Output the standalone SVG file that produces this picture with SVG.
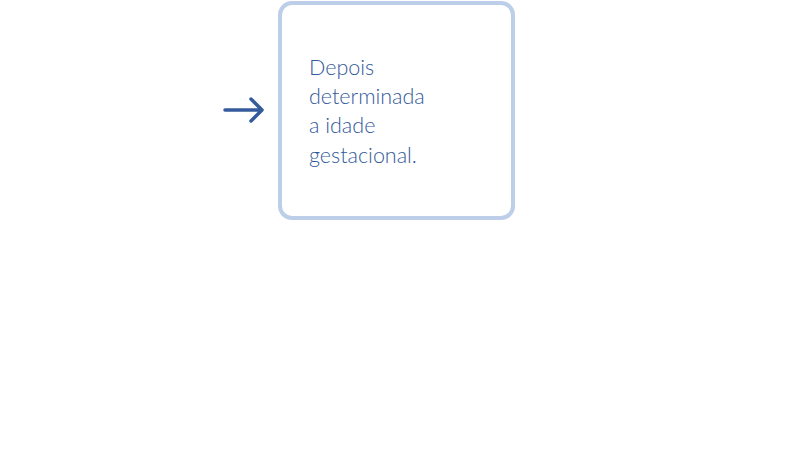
<svg xmlns="http://www.w3.org/2000/svg" width="792" height="454" viewBox="0 0 792 454">
<style>
.box{fill:#ffffff;stroke:#bdcfe8;stroke-width:4}
.lbl{font-family:Lato,"Liberation Sans",sans-serif;font-weight:300;font-size:21.5px;fill:#335a9a}
.conn{fill:none;stroke:#345b9b;stroke-width:3.5;stroke-linecap:round;stroke-linejoin:round}
</style>
<rect width="792" height="454" fill="#ffffff"/>
<g id="connectors">
<path class="conn" d="M225,110 H261 M251,99 L262,110 L251,121"/>
</g>
<g id="node1">
<rect class="box" x="280" y="3" width="233" height="215" rx="12"/>
<text class="lbl" x="309" y="74.5">Depois</text>
<text class="lbl" x="309" y="104">determinada</text>
<text class="lbl" x="309" y="133.3">a idade</text>
<text class="lbl" x="309" y="162.5">gestacional.</text>
</g>
</svg>
